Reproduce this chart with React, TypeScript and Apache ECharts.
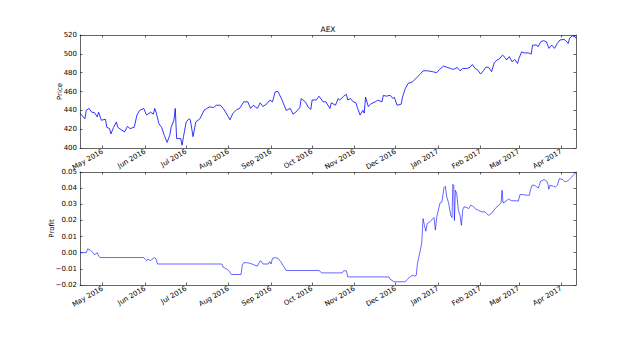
import React, { useEffect, useRef } from "react";
import * as echarts from "echarts";

// ---- data ----
const priceDates: string[] = [
  "2016-04-14 10:00", "2016-04-18", "2016-04-19", "2016-04-21", "2016-04-23", "2016-04-25", "2016-04-27", "2016-04-28", "2016-04-30",
  "2016-05-03", "2016-05-04", "2016-05-06", "2016-05-07", "2016-05-09", "2016-05-11", "2016-05-12", "2016-05-15", "2016-05-17",
  "2016-05-19", "2016-05-21", "2016-05-24", "2016-05-26", "2016-05-28", "2016-05-31",
  "2016-06-02", "2016-06-05", "2016-06-07", "2016-06-08", "2016-06-09", "2016-06-11", "2016-06-13", "2016-06-15", "2016-06-17",
  "2016-06-19", "2016-06-20", "2016-06-22", "2016-06-23", "2016-06-24", "2016-06-27", "2016-06-28", "2016-06-29",
  "2016-07-01", "2016-07-03", "2016-07-04", "2016-07-06", "2016-07-08", "2016-07-11", "2016-07-14", "2016-07-16", "2016-07-18",
  "2016-07-21", "2016-07-23", "2016-07-26", "2016-07-28", "2016-07-31",
  "2016-08-02", "2016-08-04", "2016-08-07", "2016-08-09", "2016-08-12", "2016-08-15", "2016-08-17", "2016-08-19", "2016-08-22",
  "2016-08-24", "2016-08-26", "2016-08-29", "2016-08-31",
  "2016-09-02", "2016-09-04", "2016-09-06", "2016-09-09", "2016-09-11", "2016-09-12", "2016-09-15", "2016-09-17", "2016-09-19",
  "2016-09-22", "2016-09-23", "2016-09-26", "2016-09-28", "2016-09-30",
  "2016-10-01", "2016-10-04", "2016-10-06", "2016-10-09", "2016-10-11", "2016-10-14", "2016-10-15", "2016-10-18", "2016-10-20",
  "2016-10-21", "2016-10-24", "2016-10-26", "2016-10-27", "2016-10-29", "2016-10-31",
  "2016-11-02", "2016-11-03", "2016-11-05", "2016-11-07", "2016-11-08", "2016-11-09", "2016-11-11", "2016-11-13", "2016-11-16",
  "2016-11-18", "2016-11-21", "2016-11-22", "2016-11-24", "2016-11-27", "2016-11-29", "2016-11-30",
  "2016-12-02", "2016-12-05", "2016-12-06", "2016-12-08", "2016-12-10", "2016-12-13", "2016-12-15", "2016-12-17", "2016-12-19",
  "2016-12-21", "2016-12-24", "2016-12-26", "2016-12-28", "2016-12-31",
  "2017-01-02", "2017-01-05", "2017-01-07", "2017-01-10", "2017-01-12", "2017-01-15", "2017-01-17", "2017-01-19", "2017-01-22",
  "2017-01-24", "2017-01-26", "2017-01-28", "2017-01-30",
  "2017-02-01", "2017-02-03", "2017-02-05", "2017-02-07", "2017-02-09", "2017-02-11", "2017-02-13", "2017-02-15", "2017-02-17",
  "2017-02-19", "2017-02-20", "2017-02-22", "2017-02-24", "2017-02-26", "2017-02-28",
  "2017-03-01", "2017-03-03", "2017-03-05", "2017-03-08", "2017-03-10", "2017-03-11", "2017-03-14", "2017-03-15", "2017-03-17",
  "2017-03-19", "2017-03-21", "2017-03-23", "2017-03-25", "2017-03-27", "2017-03-29", "2017-03-31",
  "2017-04-03", "2017-04-05", "2017-04-06", "2017-04-07", "2017-04-09", "2017-04-11 00:00", "2017-04-11 17:00",
];
const priceValues: number[] = [
  437, 431, 440, 442, 438, 437.6, 433, 438, 429.5,
  430.5, 422, 420.6, 415, 422, 427.7, 422, 419, 417,
  423, 420.6, 422, 435, 440, 442,
  435, 438, 436, 442, 438, 426, 422, 413.5, 406,
  413.5, 422, 429.5, 442, 410, 410, 403, 412,
  427.7, 431, 430, 412, 427.7, 431, 440, 442, 443.6,
  443, 445.4, 445.4, 442, 435,
  430, 436.6, 441, 442, 449, 449, 442, 445.4, 442,
  448, 444, 447, 450.8,
  449, 459.6, 460, 451, 443.6, 440, 442, 436, 438,
  443, 452.5, 449, 443.6, 441,
  451, 451, 455, 449, 449, 442, 448, 445.4, 452.5,
  450.8, 455, 457, 451, 452.5, 449,
  448, 443, 435, 440, 437, 454, 444, 447, 449,
  450.8, 449, 456, 455, 456, 452.5, 454,
  445.4, 446.5, 454, 463, 468.5, 470, 472.8, 475.6, 478.5,
  482, 482, 481.6, 481, 480,
  483.4, 487, 486, 484.5, 483.4, 485.5, 482, 484.5, 484.5,
  485.5, 488.7, 484.5, 482.7,
  478.5, 482, 486, 485.5, 481, 490.5, 493.4, 495, 498.7,
  496, 493.4, 497, 491.6, 494, 489.8,
  495, 502, 501, 501, 499.7, 509.3, 509.3, 507.6, 512.9,
  514, 512.9, 505.8, 509.3, 505.8, 511, 514.7,
  515.4, 512.9, 511, 516.5, 519, 518.3, 516.5,
];

const profitDates: string[] = [
  "2016-04-14 10:00", "2016-04-19", "2016-04-20", "2016-04-22", "2016-04-24", "2016-04-25", "2016-04-27", "2016-04-28", "2016-04-29",
  "2016-05-31", "2016-06-01", "2016-06-02", "2016-06-03", "2016-06-05", "2016-06-06", "2016-06-08", "2016-06-09", "2016-06-10",
  "2016-07-27", "2016-07-28", "2016-07-30", "2016-08-01", "2016-08-03", "2016-08-10", "2016-08-11", "2016-08-12", "2016-08-15",
  "2016-08-18", "2016-08-20", "2016-08-22", "2016-08-24", "2016-08-25", "2016-08-26", "2016-08-30", "2016-08-31", "2016-09-01",
  "2016-09-02", "2016-09-04", "2016-09-06", "2016-09-08", "2016-09-10", "2016-09-12", "2016-10-06", "2016-10-08", "2016-10-23",
  "2016-10-24", "2016-10-26", "2016-10-27", "2016-11-26", "2016-11-27", "2016-11-30", "2016-12-08", "2016-12-10", "2016-12-11",
  "2016-12-13", "2016-12-15", "2016-12-16", "2016-12-17", "2016-12-19", "2016-12-20", "2016-12-21", "2016-12-22", "2016-12-23",
  "2016-12-24", "2016-12-26", "2016-12-29", "2016-12-30", "2016-12-31",
  "2017-01-02 10:00", "2017-01-03 19:00", "2017-01-05 07:00", "2017-01-06 07:00", "2017-01-07 05:00", "2017-01-08 17:00",
  "2017-01-10 05:00", "2017-01-11 05:00", "2017-01-11 17:00", "2017-01-12 10:00", "2017-01-12 22:00", "2017-01-13 14:00",
  "2017-01-14 14:00", "2017-01-15 19:00", "2017-01-17 00:00", "2017-01-18 00:00", "2017-01-19 00:00", "2017-01-19 22:00",
  "2017-01-21 22:00", "2017-01-23 07:00", "2017-01-24 19:00", "2017-01-26 07:00", "2017-01-28 05:00", "2017-01-30 10:00",
  "2017-02-01 19:00", "2017-02-04 07:00", "2017-02-06 17:00", "2017-02-08 10:00", "2017-02-10 10:00", "2017-02-12 07:00",
  "2017-02-14 07:00", "2017-02-16 00:00", "2017-02-16 17:00", "2017-02-17 10:00", "2017-02-18 22:00", "2017-02-21 07:00",
  "2017-02-23 17:00", "2017-02-26 05:00", "2017-02-28 14:00", "2017-03-01 19:00", "2017-03-04 07:00", "2017-03-06 17:00",
  "2017-03-08 14:00", "2017-03-09 14:00", "2017-03-10 14:00", "2017-03-12 17:00", "2017-03-14 00:00", "2017-03-15 05:00",
  "2017-03-16 22:00", "2017-03-19 10:00", "2017-03-21 07:00", "2017-03-22 07:00", "2017-03-22 19:00", "2017-03-23 17:00",
  "2017-03-26 05:00", "2017-03-27 14:00", "2017-03-29 02:00", "2017-03-30 14:00", "2017-04-02 00:00", "2017-04-03 17:00",
  "2017-04-06 02:00", "2017-04-08 14:00", "2017-04-10 07:00", "2017-04-11 17:00",
];
const profitValues: number[] = [
  0, 0, 0.0024, 0.0015, 0, -0.0013, 0, -0.002, -0.003,
  -0.003, -0.004, -0.005, -0.004, -0.005, -0.004, -0.003, -0.004, -0.007,
  -0.007, -0.009, -0.0098, -0.011, -0.0135, -0.0135, -0.0077, -0.0062, -0.0062,
  -0.007, -0.0077, -0.0083, -0.005, -0.0055, -0.007, -0.007, -0.0055, -0.007,
  -0.0035, -0.003, -0.0035, -0.0055, -0.0083, -0.011, -0.011, -0.0125, -0.0125,
  -0.0112, -0.0112, -0.015, -0.015, -0.0165, -0.018, -0.018, -0.016, -0.0153,
  -0.014, -0.0145, -0.014, -0.0062, 0.0016, 0.0057, 0.0211, 0.017, 0.0133,
  0.018, 0.0192, 0.0218, 0.014, 0.0222,
  0.0309, 0.0315, 0.0403, 0.0412, 0.035, 0.0305,
  0.0232, 0.0218, 0.0424, 0.0418, 0.02, 0.0387,
  0.0366, 0.0263, 0.0232, 0.017, 0.0267, 0.0284,
  0.028, 0.0273, 0.0294, 0.0288, 0.0273, 0.0263,
  0.0253, 0.0253, 0.0232, 0.0239, 0.0259, 0.028,
  0.0294, 0.0309, 0.0387, 0.0309, 0.0315, 0.0332,
  0.0322, 0.0322, 0.032, 0.036, 0.036, 0.0356,
  0.0356, 0.0391, 0.0418, 0.0418, 0.0407, 0.0401,
  0.0444, 0.0453, 0.0444, 0.0424, 0.0393, 0.0418,
  0.0412, 0.0407, 0.0418, 0.0459, 0.0453, 0.0438,
  0.0448, 0.0469, 0.0486, 0.0496,
];

const tickDates: string[] = [
  "2016-05-01", "2016-06-01", "2016-07-01", "2016-08-01", "2016-09-01", "2016-10-01",
  "2016-11-01", "2016-12-01", "2017-01-01", "2017-02-01", "2017-03-01", "2017-04-01",
];
const tickLabels: string[] = [
  "May 2016", "Jun 2016", "Jul 2016", "Aug 2016", "Sep 2016", "Oct 2016",
  "Nov 2016", "Dec 2016", "Jan 2017", "Feb 2017", "Mar 2017", "Apr 2017",
];
const xStart = "2016-04-14 10:00";
const xEnd = "2017-04-11 17:00";

const FONT = "DejaVu Sans";
const FS = 7;

function parseLocal(s: string): number {
  const [d, t] = s.split(" ");
  const [y, m, dd] = d.split("-").map(Number);
  let h = 0, mi = 0;
  if (t) { const p = t.split(":").map(Number); h = p[0]; mi = p[1]; }
  return new Date(y, m - 1, dd, h, mi).getTime();
}

export default function App() {
  const ref = useRef<HTMLDivElement>(null);
  useEffect(() => {
    if (!ref.current) return;
    const chart = echarts.init(ref.current, null, { renderer: "svg" });
    const ticks = tickDates.map(parseLocal);
    const xMin = parseLocal(xStart);
    const xMax = parseLocal(xEnd);
    const labelFor = (v: number) => {
      const i = ticks.findIndex((t) => Math.abs(t - v) < 3600000);
      return i >= 0 ? tickLabels[i] : "";
    };
    const lineStyle = { color: "#222", width: 0.7 };
    const mkX = (gridIndex: number, top: boolean) => ({
      type: "value",
      gridIndex,
      min: xMin,
      max: xMax,
      scale: true,
      position: top ? "top" : "bottom",
      axisLine: { show: true, onZero: false, lineStyle },
      axisTick: { show: true, inside: true, length: 2.5, lineStyle, customValues: ticks },
      axisLabel: top
        ? { show: false }
        : {
            show: true,
            customValues: ticks,
            rotate: 30,
            fontSize: FS,
            fontFamily: FONT,
            color: "#000",
            margin: 3,
            formatter: (v: number) => labelFor(v),
          },
      splitLine: { show: false },
    });
    const fmtProfit = (v: number) => {
      const r = Math.round(v * 100) / 100;
      const s = Math.abs(r).toFixed(2);
      return r < 0 ? "\u2212" + s : s;
    };
    const mkY = (gridIndex: number, right: boolean, min: number, max: number, interval: number, name: string, gap: number, fmt?: (v: number) => string) => ({
      type: "value",
      gridIndex,
      min,
      max,
      interval,
      position: right ? "right" : "left",
      name: right ? "" : name,
      nameLocation: "middle",
      nameGap: gap,
      nameMoveOverlap: false,
      nameTextStyle: { fontSize: FS, fontFamily: FONT, color: "#000" },
      axisLine: { show: true, onZero: false, lineStyle },
      axisTick: { show: true, inside: true, length: 2.5, lineStyle },
      axisLabel: right
        ? { show: false }
        : { show: true, fontSize: FS, fontFamily: FONT, color: "#000", margin: 3, formatter: fmt },
      splitLine: { show: false },
    });
    chart.setOption({
      animation: false,
      backgroundColor: "#fff",
      graphic: [
        { type: "text", x: 328, y: 29.5, style: { text: "AEX", fontSize: 7.5, fontFamily: FONT, fill: "#000", textAlign: "center", textVerticalAlign: "middle" } },
      ],
      grid: [
        { left: 80, top: 35, width: 496, height: 113 },
        { left: 80, top: 172, width: 496, height: 113 },
      ],
      xAxis: [mkX(0, false), mkX(0, true), mkX(1, false), mkX(1, true)],
      yAxis: [
        mkY(0, false, 400, 520, 20, "Price", 17),
        mkY(0, true, 400, 520, 20, "", 0),
        mkY(1, false, -0.02, 0.05, 0.01, "Profit", 25, fmtProfit),
        mkY(1, true, -0.02, 0.05, 0.01, "", 0),
      ],
      series: [
        {
          type: "line",
          xAxisIndex: 0,
          yAxisIndex: 0,
          showSymbol: false,
          data: priceDates.map((d, i) => [parseLocal(d), priceValues[i]]),
          lineStyle: { color: "#0000ff", width: 0.8 },
          itemStyle: { color: "#0000ff" },
        },
        {
          type: "line",
          xAxisIndex: 2,
          yAxisIndex: 2,
          showSymbol: false,
          data: profitDates.map((d, i) => [parseLocal(d), profitValues[i]]),
          lineStyle: { color: "#0000ff", width: 0.6 },
          itemStyle: { color: "#0000ff" },
        },
      ],
    });
    return () => chart.dispose();
  }, []);
  return (
    <div style={{ position: "fixed", left: 0, top: 0, width: 640, height: 356, background: "#fff" }}>
      <div ref={ref} style={{ width: 640, height: 356 }} />
    </div>
  );
}
